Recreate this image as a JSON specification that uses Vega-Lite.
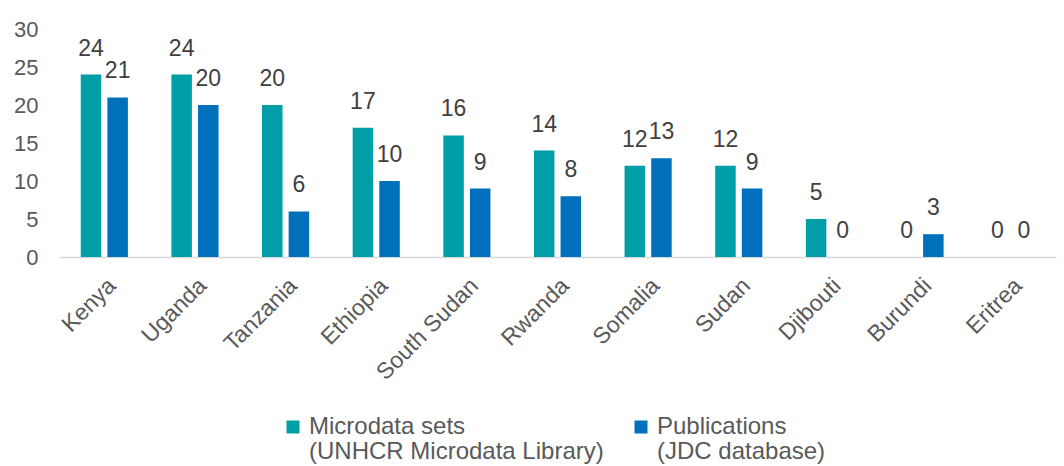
{
  "$schema": "https://vega.github.io/schema/vega-lite/v6.json",
  "autosize": "none",
  "width": 997,
  "height": 228,
  "padding": {"left": 59, "top": 29, "right": 8, "bottom": 209},
  "background": "white",
  "config": {
    "view": {"stroke": null},
    "font": "Liberation Sans",
    "text": {"font": "Liberation Sans"},
    "style": {"guide-label": {"lineHeight": 25}}
  },
  "data": {
    "values": [
      {"country": "Kenya", "series": "Microdata sets|(UNHCR Microdata Library)", "value": 24},
      {"country": "Kenya", "series": "Publications|(JDC database)", "value": 21},
      {"country": "Uganda", "series": "Microdata sets|(UNHCR Microdata Library)", "value": 24},
      {"country": "Uganda", "series": "Publications|(JDC database)", "value": 20},
      {"country": "Tanzania", "series": "Microdata sets|(UNHCR Microdata Library)", "value": 20},
      {"country": "Tanzania", "series": "Publications|(JDC database)", "value": 6},
      {"country": "Ethiopia", "series": "Microdata sets|(UNHCR Microdata Library)", "value": 17},
      {"country": "Ethiopia", "series": "Publications|(JDC database)", "value": 10},
      {"country": "South Sudan", "series": "Microdata sets|(UNHCR Microdata Library)", "value": 16},
      {"country": "South Sudan", "series": "Publications|(JDC database)", "value": 9},
      {"country": "Rwanda", "series": "Microdata sets|(UNHCR Microdata Library)", "value": 14},
      {"country": "Rwanda", "series": "Publications|(JDC database)", "value": 8},
      {"country": "Somalia", "series": "Microdata sets|(UNHCR Microdata Library)", "value": 12},
      {"country": "Somalia", "series": "Publications|(JDC database)", "value": 13},
      {"country": "Sudan", "series": "Microdata sets|(UNHCR Microdata Library)", "value": 12},
      {"country": "Sudan", "series": "Publications|(JDC database)", "value": 9},
      {"country": "Djibouti", "series": "Microdata sets|(UNHCR Microdata Library)", "value": 5},
      {"country": "Djibouti", "series": "Publications|(JDC database)", "value": 0},
      {"country": "Burundi", "series": "Microdata sets|(UNHCR Microdata Library)", "value": 0},
      {"country": "Burundi", "series": "Publications|(JDC database)", "value": 3},
      {"country": "Eritrea", "series": "Microdata sets|(UNHCR Microdata Library)", "value": 0},
      {"country": "Eritrea", "series": "Publications|(JDC database)", "value": 0}
    ]
  },
  "encoding": {
    "x": {
      "field": "country",
      "type": "nominal",
      "sort": null,
      "title": null,
      "scale": {"paddingInner": 0.48, "paddingOuter": 0.24},
      "axis": {
        "labelAngle": -45,
        "labelFontSize": 23,
        "labelColor": "#595959",
        "labelPadding": 17,
        "ticks": false,
        "domainColor": "#d9d9d9",
        "domainWidth": 1.5
      }
    },
    "xOffset": {
      "field": "series",
      "type": "nominal",
      "scale": {"paddingInner": 0.23, "paddingOuter": 0}
    },
    "y": {
      "field": "value",
      "type": "quantitative",
      "title": null,
      "scale": {"domain": [0, 30]},
      "axis": {
        "values": [0, 5, 10, 15, 20, 25, 30],
        "grid": false,
        "domain": false,
        "ticks": false,
        "labelFontSize": 22,
        "labelColor": "#595959",
        "labelPadding": 21
      }
    }
  },
  "layer": [
    {
      "mark": {"type": "bar"},
      "encoding": {
        "color": {
          "field": "series",
          "type": "nominal",
          "scale": {"range": ["#009EA6", "#0070BC"]},
          "legend": {
            "orient": "none",
            "legendX": 222,
            "legendY": 386,
            "direction": "horizontal",
            "title": null,
            "symbolType": "square",
            "symbolSize": 169,
            "symbolStrokeWidth": 0,
            "labelFontSize": 24,
            "labelColor": "#595959",
            "labelExpr": "split(datum.label, '|')",
            "labelLimit": 400,
            "labelOffset": 4,
            "columnPadding": 25
          }
        }
      }
    },
    {
      "mark": {"type": "text", "baseline": "bottom", "dy": -14, "fontSize": 23, "color": "#404040"},
      "encoding": {
        "text": {"field": "value", "type": "quantitative"}
      }
    }
  ]
}
